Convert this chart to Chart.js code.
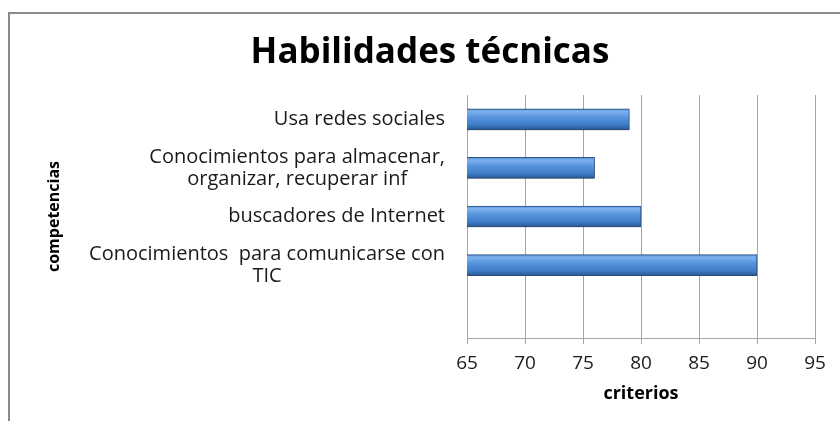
<!DOCTYPE html>
<html>
<head>
<meta charset="utf-8">
<script src="https://cdn.jsdelivr.net/npm/chart.js@4.4.1/dist/chart.umd.min.js"></script>
<style>
  html, body { margin: 0; padding: 0; background: #fff; }
  #wrap { position: relative; width: 840px; height: 421px; overflow: hidden; }
  #frame {
    position: absolute; left: 8px; top: 12px; width: 900px; height: 500px;
    border-left: 2px solid #8a8a8a; border-top: 2px solid #8a8a8a;
  }
  canvas { position: absolute; left: 0; top: 0; }
</style>
</head>
<body>
<div id="wrap">
  <div id="frame"></div>
  <canvas id="chart" width="840" height="421"></canvas>
</div>
<script>
/* ── data ────────────────────────────────────────────────── */
const categories = [
  "Usa redes sociales",
  ["Conocimientos para almacenar,", "organizar, recuperar inf"],
  "buscadores de Internet",
  ["Conocimientos  para comunicarse con", "TIC"],
  ""
];
const values = [79, 76, 80, 90, null];
const xTicks = [65, 70, 75, 80, 85, 90, 95];

const FONT = "'Open Sans', 'Noto Sans', sans-serif";
const BAR_H = 21;

// bevelled blue fill, one gradient per bar
function barFill(c) {
  const chart = c.chart;
  const y = chart.scales.y;
  if (!y || c.dataIndex == null) return "#4a86d0";
  const yc = y.getPixelForValue(c.dataIndex);
  if (!isFinite(yc)) return "#4a86d0";
  const g = chart.ctx.createLinearGradient(0, yc - BAR_H / 2, 0, yc + BAR_H / 2);
  g.addColorStop(0, "#4d82c4");
  g.addColorStop(0.12, "#7fb3ee");
  g.addColorStop(0.38, "#5a96df");
  g.addColorStop(0.75, "#3f7ec9");
  g.addColorStop(1, "#2b5891");
  return g;
}

// soft shadow under the bars
const shadowPlugin = {
  id: "barShadow",
  beforeDatasetsDraw(chart) {
    const ctx = chart.ctx;
    ctx.save();
    ctx.shadowColor = "rgba(0,0,0,0.28)";
    ctx.shadowBlur = 4;
    ctx.shadowOffsetY = 2;
  },
  afterDatasetsDraw(chart) {
    chart.ctx.restore();
  }
};

// category labels: block right-aligned, lines centred inside the block
const labelPlugin = {
  id: "catLabels",
  afterDraw(chart) {
    const ctx = chart.ctx;
    const y = chart.scales.y;
    const right = chart.chartArea.left - 22;
    const lh = 22;
    ctx.save();
    ctx.font = "20px " + FONT;
    ctx.fillStyle = "#1a1a1a";
    ctx.textAlign = "center";
    ctx.textBaseline = "middle";
    categories.forEach((lab, i) => {
      const lines = Array.isArray(lab) ? lab : [lab];
      if (!lines[0]) return;
      const w = Math.max(...lines.map(l => ctx.measureText(l).width));
      const cx = right - w / 2;
      const yc = y.getPixelForValue(i);
      lines.forEach((l, k) => {
        ctx.fillText(l, cx, yc + (k - (lines.length - 1) / 2) * lh);
      });
    });
    ctx.restore();
  }
};

new Chart(document.getElementById("chart"), {
  type: "bar",
  data: {
    labels: categories,
    datasets: [{
      data: values,
      backgroundColor: barFill,
      borderColor: "#335d95",
      borderWidth: 1,
      borderSkipped: false,
      barThickness: BAR_H
    }]
  },
  options: {
    indexAxis: "y",
    responsive: false,
    animation: false,
    layout: { padding: { top: 8, right: 25, bottom: 0, left: 45 } },
    plugins: {
      legend: { display: false },
      tooltip: { enabled: false },
      title: {
        display: true,
        text: "Habilidades técnicas",
        color: "#000",
        font: { family: FONT, size: 35, weight: "bold" },
        padding: { top: 24, bottom: 21 }
      }
    },
    scales: {
      x: {
        min: 65,
        max: 95,
        afterBuildTicks: (s) => { s.ticks = xTicks.map(v => ({ value: v })); },
        grid: { color: "#a6a6a6", lineWidth: 1, drawTicks: true, tickLength: 6, tickColor: "#a6a6a6" },
        border: { display: true, color: "#a6a6a6" },
        ticks: { color: "#1a1a1a", font: { family: FONT, size: 19 }, padding: 8 },
        title: {
          display: true, text: "criterios", color: "#000",
          font: { family: FONT, size: 18, weight: "bold" },
          padding: { top: 6, bottom: 16 }
        },
        afterFit: (s) => { s.height = 83; }
      },
      y: {
        grid: { display: false },
        border: { display: false },
        ticks: { display: false },
        title: {
          display: true, text: "competencias", color: "#000",
          font: { family: FONT, size: 16, weight: "bold" },
          padding: { top: 0, bottom: 0 }
        },
        afterFit: (s) => { s.width = 422; }
      }
    }
  },
  plugins: [shadowPlugin, labelPlugin]
});
</script>
</body>
</html>
